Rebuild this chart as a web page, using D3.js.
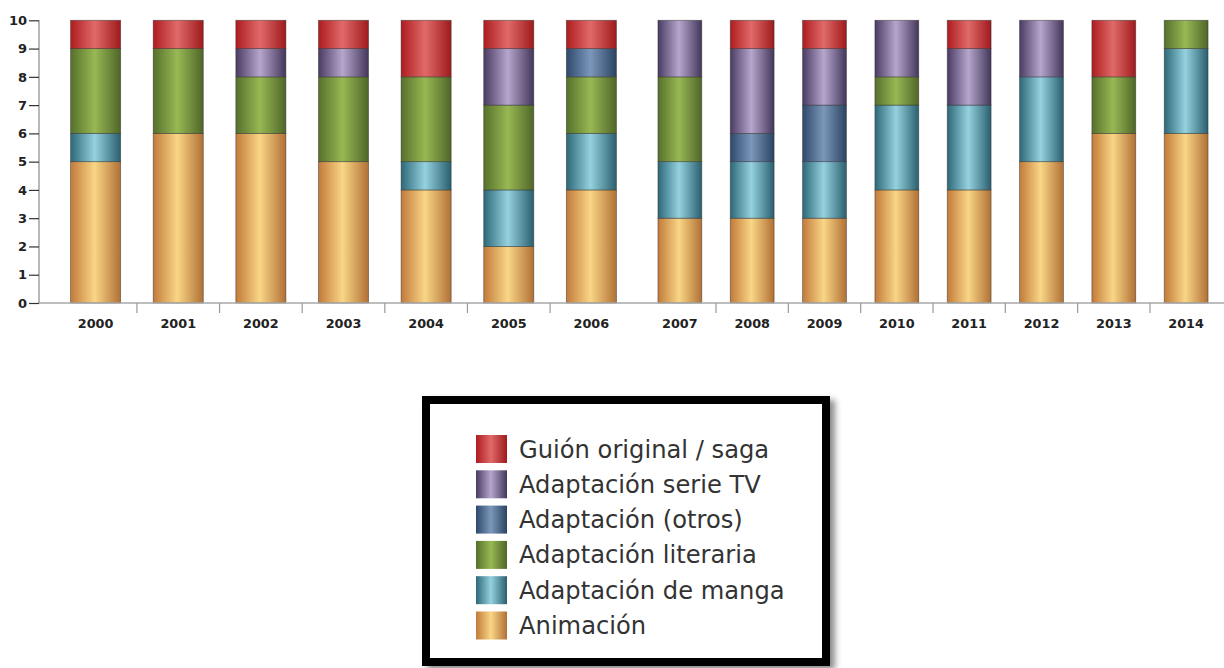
<!DOCTYPE html>
<html>
<head>
<meta charset="utf-8">
<script src="https://cdn.jsdelivr.net/npm/d3@7/dist/d3.min.js"></script>
<style>
  html, body { margin: 0; padding: 0; background: #fff; }
  svg { display: block; }
</style>
</head>
<body>
<svg id="chart" width="1224" height="668"></svg>
<script>
// Years on the category axis (two runs of bands with different widths)
const yearsA = ["2000", "2001", "2002", "2003", "2004", "2005", "2006"];
const yearsB = ["2007", "2008", "2009", "2010", "2011", "2012", "2013", "2014"];
const years = yearsA.concat(yearsB);

// Film counts per origin, one value per year
const animacion = [5, 6, 6, 5, 4, 2, 4, 3, 3, 3, 4, 4, 5, 6, 6];
const manga     = [1, 0, 0, 0, 1, 2, 2, 2, 2, 2, 3, 3, 3, 0, 3];
const literaria = [3, 3, 2, 3, 3, 3, 2, 3, 0, 0, 1, 0, 0, 2, 1];
const otros     = [0, 0, 0, 0, 0, 0, 1, 0, 1, 2, 0, 0, 0, 0, 0];
const serieTV   = [0, 0, 1, 1, 0, 2, 0, 2, 3, 2, 2, 2, 2, 0, 0];
const guion     = [1, 1, 1, 1, 2, 1, 1, 0, 1, 1, 0, 1, 0, 2, 0];

const yTicks = [0, 1, 2, 3, 4, 5, 6, 7, 8, 9, 10];

// Series, bottom to top of the stack
const seriesKeys  = ["anim", "manga", "lit", "otros", "tv", "guion"];
const seriesNames = ["Animación", "Adaptación de manga", "Adaptación literaria",
                     "Adaptación (otros)", "Adaptación serie TV", "Guión original / saga"];
const seriesEdge  = ["#c27a3a", "#2d6878", "#56702c", "#2e496b", "#4a3b63", "#ae1c1f"];
const seriesMid   = ["#f9d686", "#95d1df", "#98b853", "#7b97b9", "#b6a6cd", "#e06a69"];

const rows = years.map((y, i) => ({
  year: y,
  anim: animacion[i], manga: manga[i], lit: literaria[i],
  otros: otros[i], tv: serieTV[i], guion: guion[i]
}));

const svg = d3.select("#chart");
const defs = svg.append("defs");

// Horizontal "cylinder" shading for each series
seriesKeys.forEach((k, i) => {
  const g = defs.append("linearGradient")
    .attr("id", "grad-" + k)
    .attr("x1", "0%").attr("x2", "100%").attr("y1", "0%").attr("y2", "0%");
  g.append("stop").attr("offset", "0%").attr("stop-color", seriesEdge[i]);
  g.append("stop").attr("offset", "48%").attr("stop-color", seriesMid[i]);
  g.append("stop").attr("offset", "100%").attr("stop-color", d3.color(seriesEdge[i]).darker(0.25));
});

// Drop shadow for the legend frame
const shadow = defs.append("filter").attr("id", "shadow")
  .attr("x", "-5%").attr("y", "-5%").attr("width", "115%").attr("height", "115%");
shadow.append("feDropShadow").attr("dx", 5).attr("dy", 4)
  .attr("stdDeviation", 3).attr("flood-color", "#000").attr("flood-opacity", 0.45);

// Scales
const y = d3.scaleLinear().domain([0, 10]).range([303, 20.3]);
const xA = d3.scaleBand().domain(yearsA).range([54.3, 632.7]);
const xB = d3.scaleBand().domain(yearsB).range([643.7, 1222.3]);
const xScaleOf = yr => (yearsA.includes(yr) ? xA : xB);
const barRatio = 0.606;
const barX = yr => { const s = xScaleOf(yr); return s(yr) + s.bandwidth() * (1 - barRatio) / 2; };
const barW = yr => xScaleOf(yr).bandwidth() * barRatio;

const stack = d3.stack().keys(seriesKeys);
const stacked = stack(rows);

// Bars
const layers = svg.append("g").selectAll("g")
  .data(stacked).join("g")
  .attr("fill", d => "url(#grad-" + d.key + ")");

layers.selectAll("rect")
  .data(d => d.filter(p => p[1] > p[0]))
  .join("rect")
  .attr("x", p => barX(p.data.year))
  .attr("width", p => barW(p.data.year))
  .attr("y", p => y(p[1]))
  .attr("height", p => y(p[0]) - y(p[1]))
  .attr("stroke", "rgba(40,40,40,0.55)")
  .attr("stroke-width", 0.8);

// Y axis
const yAxis = svg.append("g").attr("transform", "translate(39,0)")
  .call(d3.axisLeft(y).tickValues(yTicks).tickSize(10).tickPadding(2).tickFormat(d3.format("d")));
yAxis.select(".domain").attr("stroke", "#9a9a9a").attr("stroke-width", 1.4).attr("d", "M0,20.3V303");
yAxis.selectAll(".tick line").attr("stroke", "#333").attr("stroke-width", 1.2);
yAxis.selectAll(".tick text")
  .attr("fill", "#222").style("font-family", "DejaVu Sans, Verdana, sans-serif")
  .style("font-size", "13px").style("font-weight", "bold");

// X axis baseline
svg.append("line")
  .attr("x1", 39).attr("x2", 1224).attr("y1", y(0)).attr("y2", y(0))
  .attr("stroke", "#a8a8a8").attr("stroke-width", 1.6);

// Category separators (inner band boundaries of each run)
const seps = yearsA.slice(1).map(yr => xA(yr)).concat(yearsB.slice(1).map(yr => xB(yr)));
svg.append("g").selectAll("line").data(seps).join("line")
  .attr("x1", d => d).attr("x2", d => d)
  .attr("y1", y(0)).attr("y2", y(0) + 10)
  .attr("stroke", "#9a9a9a").attr("stroke-width", 1.2);

// Year labels, centred under each bar
svg.append("g").selectAll("text").data(years).join("text")
  .attr("x", yr => barX(yr) + barW(yr) / 2)
  .attr("y", 327.5)
  .attr("text-anchor", "middle")
  .attr("fill", "#222")
  .style("font-family", "DejaVu Sans, Verdana, sans-serif")
  .style("font-size", "12.8px").style("font-weight", "bold")
  .text(d => d);

// Legend
const legend = svg.append("g");
legend.append("rect")
  .attr("x", 426).attr("y", 400).attr("width", 400).attr("height", 262)
  .attr("fill", "#fff").attr("stroke", "#000").attr("stroke-width", 8)
  .attr("filter", "url(#shadow)");

const legendOrder = seriesKeys.slice().reverse();
const legendRows = legend.selectAll("g.item").data(legendOrder).join("g")
  .attr("class", "item")
  .attr("transform", (k, i) => `translate(476,${435 + i * 35.3})`);
legendRows.append("rect")
  .attr("width", 31).attr("height", 28)
  .attr("fill", k => "url(#grad-" + k + ")");
legendRows.append("text")
  .attr("x", 43).attr("y", 14 + 8.5)
  .attr("fill", "#333")
  .style("font-family", "DejaVu Sans, Verdana, sans-serif")
  .style("font-size", "24.2px")
  .text(k => seriesNames[seriesKeys.indexOf(k)]);
</script>
</body>
</html>
